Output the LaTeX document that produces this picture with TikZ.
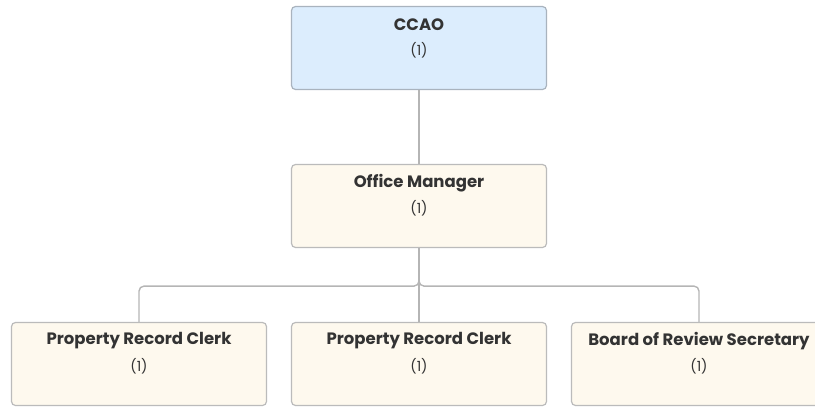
\documentclass[tikz,border=0pt]{standalone}
\usepackage{fontspec}
\setmainfont{Poppins}
\usetikzlibrary{calc}
\usetikzlibrary{positioning}
\definecolor{topfill}{HTML}{DCEDFD}
\definecolor{topline}{HTML}{A9B3BE}
\definecolor{boxfill}{HTML}{FEF9EE}
\definecolor{boxline}{HTML}{BBBBBB}
\definecolor{textcol}{HTML}{333333}
\definecolor{linkcol}{HTML}{B5B5B5}
\tikzset{
  box/.style={draw=boxline, fill=boxfill, line width=1.2pt, rounded corners=4pt,
    minimum width=255pt, minimum height=83pt, inner sep=0pt},
  topbox/.style={box, draw=topline, fill=topfill},
  title/.style={text=textcol, font=\fontsize{16.5}{19}\selectfont\bfseries, inner sep=0pt},
  count/.style={text=textcol, font=\fontsize{14}{16}\selectfont, inner sep=0pt},
  link/.style={draw=linkcol, line width=1.4pt, rounded corners=5pt}
}

\begin{document}
\begin{tikzpicture}[x=1pt, y=1pt]

\useasboundingbox (0,0) rectangle (815,-407);

\node [topbox] (ccao) at (419,-48) {};
\node [box] (om) at (419,-206) {};
\node [box] (clerka) at (139,-364) {};
\node [box] (clerkb) at (419,-364) {};
\node [box] (secretary) at (699,-364) {};

\node [title] (ccaot) at ($(ccao.north)+(0,-19)$) {CCAO};
\node [count] (ccaoc) at ($(ccao.north)+(0,-44)$) {(1)};
\node [title] (omt) at ($(om.north)+(0,-19)$) {Office Manager};
\node [count] (omc) at ($(om.north)+(0,-44)$) {(1)};
\node [title] (clerkat) at ($(clerka.north)+(0,-19)$) {Property Record Clerk};
\node [count] (clerkac) at ($(clerka.north)+(0,-44)$) {(1)};
\node [title] (clerkbt) at ($(clerkb.north)+(0,-19)$) {Property Record Clerk};
\node [count] (clerkbc) at ($(clerkb.north)+(0,-44)$) {(1)};
\node [title] (secretaryt) at ($(secretary.north)+(0,-19)$) {Board of Review Secretary};
\node [count] (secretaryc) at ($(secretary.north)+(0,-44)$) {(1)};

\coordinate (bus) at ($(om.south)+(0,-38)$);

\draw [link] (ccao.south) -- (om.north);
\foreach \n in {clerka,clerkb,secretary} {\draw [link] (om.south) -- (bus) -| (\n.north);}

\end{tikzpicture}
\end{document}
